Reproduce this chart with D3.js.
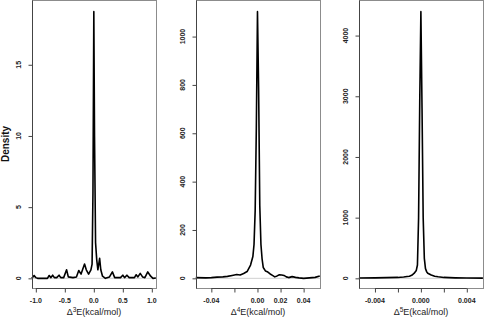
<!DOCTYPE html>
<html>
<head>
<meta charset="utf-8">
<script src="https://cdn.jsdelivr.net/npm/d3@7"></script>
<style>
  body { margin: 0; background: #fff; }
  svg { display: block; font-family: "Liberation Sans", Arial, sans-serif; }
  .tick-label { font-size: 7px; font-weight: bold; fill: #222; }
  .axis-title { font-size: 9px; fill: #222; }
  .y-title { font-size: 10px; font-weight: bold; fill: #111; }
</style>
</head>
<body>
<svg width="485" height="319"></svg>
<script>
// values (density estimates of three energy differences)
var d3x = [-1.07, -1.05, -1.03, -1.0, -0.97, -0.8, -0.77, -0.74, -0.71, -0.68, -0.64, -0.6, -0.57, -0.52,
  -0.47, -0.44, -0.36, -0.3, -0.26, -0.22, -0.16, -0.13, -0.09, -0.05, -0.03, -0.015, 0, 0.012, 0.03,
  0.05, 0.07, 0.1, 0.12, 0.15, 0.2, 0.27, 0.32, 0.36, 0.46, 0.5, 0.53, 0.57, 0.61, 0.7, 0.73, 0.76,
  0.8, 0.84, 0.88, 0.93, 0.98, 1.02, 1.07];
var d3y = [0, 0.1, 0.2, 0.05, 0, 0, 0.2, 0.05, 0.22, 0.05, 0.05, 0.22, 0.05, 0.05,
  0.6, 0.1, 0.05, 0.1, 0.55, 0.3, 1.0, 0.6, 0.3, 0.6, 1.0, 6, 18.73, 10, 2.5,
  1.3, 0.6, 1.4, 0.6, 0.15, 0.0, 0.1, 0.45, 0.05, 0.05, 0.22, 0.05, 0.22, 0.05, 0.05, 0.25, 0.1,
  0.35, 0.1, 0.05, 0.45, 0.15, 0.0, 0.02];

var d4x = [-0.0535, -0.045, -0.04, -0.035, -0.03, -0.026, -0.022, -0.018, -0.015, -0.012, -0.009, -0.006,
  -0.004, -0.003, -0.002, -0.001, 0, 0.001, 0.002, 0.003, 0.004, 0.005, 0.007, 0.009, 0.011, 0.013,
  0.015, 0.017, 0.019, 0.021, 0.023, 0.025, 0.027, 0.03, 0.033, 0.036, 0.04, 0.045, 0.05, 0.054];
var d4y = [3, 2, 3, 5, 6, 8, 12, 16, 14, 20, 28, 55,
  90, 140, 280, 620, 1103, 780, 300, 140, 80, 45, 30, 26, 18, 12,
  6, 10, 15, 14, 12, 6, 3, 7, 4, 2, 0, 2, 4, 10];

var d5x = [-0.0054, -0.004, -0.003, -0.002, -0.0015, -0.0012, -0.001, -0.0008, -0.0006, -0.0004, -0.0003,
  -0.0002, -0.0001, 0, 0.0001, 0.0002, 0.0003, 0.0004, 0.0005, 0.0006, 0.0009, 0.0012, 0.0015, 0.002,
  0.003, 0.004, 0.0054];
var d5y = [5, 8, 12, 15, 22, 30, 35, 50, 80, 130, 220,
  1000, 2900, 4394, 2800, 1000, 330, 160, 110, 85, 55, 35, 25, 15,
  8, 5, 3];

var xDomains = [[-1.066, 1.072], [-0.0533, 0.0542], [-0.00539, 0.00541]];
var xTicks = [[-1, -0.5, 0, 0.5, 1], [-0.04, -0.02, 0, 0.02, 0.04], [-0.004, -0.002, 0, 0.002, 0.004]];
var xTickLabels = [['-1.0', '-0.5', '0.0', '0.5', '1.0'], ['-0.04', '', '0.00', '0.02', '0.04'],
  ['-0.004', '', '0.000', '', '0.004']];
var yTicks = [[0, 5, 10, 15], [0, 200, 400, 600, 800, 1000], [0, 1000, 2000, 3000, 4000]];
var powers = ['3', '4', '5'];

var svg = d3.select('svg');

// panel boxes
var boxLeft = [32, 196, 359];
var boxWidth = 124;
var boxTop = 1;
var boxBottom = 289;

var panels = [
  { xs: d3x, ys: d3y },
  { xs: d4x, ys: d4y },
  { xs: d5x, ys: d5y }
];

panels.forEach(function (p, i) {
  var data = p.xs.map(function (x, j) { return { x: x, y: p.ys[j] }; });
  var yMax = d3.max(p.ys);

  var xScale = d3.scaleLinear().domain(xDomains[i]).range([0, boxWidth]);
  var yScale = d3.scaleLinear().domain([-0.04 * yMax, 1.04 * yMax]).range([boxBottom, boxTop]);

  var g = svg.append('g').attr('transform', 'translate(' + boxLeft[i] + ',0)');

  // zero line like R's density plot
  g.append('line')
    .attr('x1', 0).attr('x2', boxWidth)
    .attr('y1', yScale(0)).attr('y2', yScale(0))
    .attr('stroke', '#d0d0d0').attr('stroke-width', 1);

  var line = d3.line()
    .x(function (d) { return xScale(d.x); })
    .y(function (d) { return yScale(d.y); });

  g.append('path').datum(data)
    .attr('fill', 'none')
    .attr('stroke', '#000')
    .attr('stroke-width', 1.6)
    .attr('stroke-linejoin', 'round')
    .attr('d', line);

  // box
  g.append('rect')
    .attr('x', 0.5).attr('y', boxTop - 0.5)
    .attr('width', boxWidth).attr('height', boxBottom - boxTop)
    .attr('fill', 'none').attr('stroke', '#8c8c8c').attr('stroke-width', 1);

  // y axis
  var yAxis = d3.axisLeft(yScale).tickValues(yTicks[i]).tickSize(4).tickFormat('');
  var ya = g.append('g').attr('transform', 'translate(0.5,0)').call(yAxis);
  ya.select('.domain').remove();
  ya.selectAll('line').attr('stroke', '#444');
  g.append('line')
    .attr('x1', 0.5).attr('x2', 0.5)
    .attr('y1', boxTop - 0.5).attr('y2', boxBottom - 0.5)
    .attr('stroke', '#444');

  g.selectAll('.ylab').data(yTicks[i]).enter()
    .append('text')
    .attr('class', 'tick-label')
    .attr('text-anchor', 'middle')
    .attr('transform', function (d) { return 'translate(-11,' + yScale(d) + ') rotate(-90)'; })
    .text(function (d) { return d; });

  // x axis
  var xAxis = d3.axisBottom(xScale).tickValues(xTicks[i]).tickSize(4).tickFormat('');
  var xa = g.append('g').attr('transform', 'translate(0,' + (boxBottom - 0.5) + ')').call(xAxis);
  xa.select('.domain').remove();
  xa.selectAll('line').attr('stroke', '#444');
  g.append('line')
    .attr('x1', xScale(xTicks[i][0])).attr('x2', xScale(xTicks[i][xTicks[i].length - 1]))
    .attr('y1', boxBottom - 0.5).attr('y2', boxBottom - 0.5)
    .attr('stroke', '#444');

  g.selectAll('.xlab').data(xTicks[i]).enter()
    .append('text')
    .attr('class', 'tick-label')
    .attr('text-anchor', 'middle')
    .attr('x', function (d) { return xScale(d); })
    .attr('y', 303)
    .text(function (d, j) { return xTickLabels[i][j]; });

  var title = g.append('text')
    .attr('class', 'axis-title')
    .attr('text-anchor', 'middle')
    .attr('x', boxWidth / 2)
    .attr('y', 315);
  title.append('tspan').text('\u0394');
  title.append('tspan').attr('dy', -3.5).attr('font-size', '6.5px').text(powers[i]);
  title.append('tspan').attr('dy', 3.5).text('E(kcal/mol)');
});

svg.append('text')
  .attr('class', 'y-title')
  .attr('text-anchor', 'middle')
  .attr('transform', 'translate(9,' + 144 + ') rotate(-90)')
  .text('Density');
</script>
</body>
</html>
